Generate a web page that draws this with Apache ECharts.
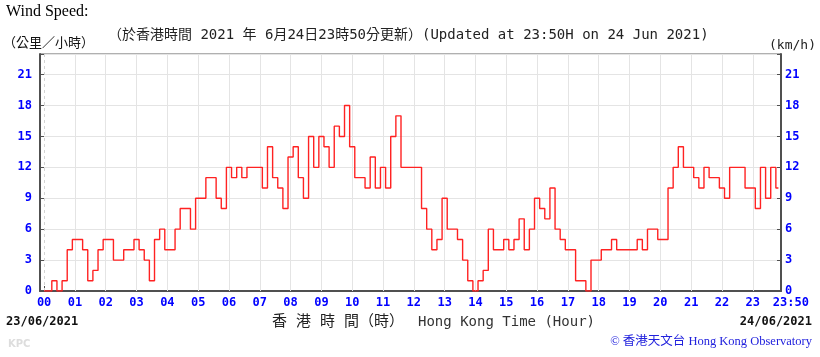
<!DOCTYPE html>
<html><head><meta charset="utf-8">
<script src="https://cdn.jsdelivr.net/npm/echarts@6/dist/echarts.min.js"></script>
<style>html,body{margin:0;padding:0;background:#fff}#c{width:820px;height:357px}</style>
</head><body><div id="c"></div>
<script>
// Tick labels (x axis, minutes after 00:00 HKT on 23/06/2021)
const tickLabels = ['00','01','02','03','04','05','06','07','08','09','10','11','12','13','14','15','16','17','18','19','20','21','22','23','23:50'];
const tickMinutes = [0,60,120,180,240,300,360,420,480,540,600,660,720,780,840,900,960,1020,1080,1140,1200,1260,1320,1380,1430];
const yTickLabels = [0,3,6,9,12,15,18,21];
const stepMinutes = 10;
// Wind speed (km/h), one value every 10 minutes from 00:00 to 23:50
const speedKmh = [
  0,0,1,0,1,4,5,5,4,1,2,4,5,5,3,3,4,4,5,
  4,3,1,5,6,4,4,6,8,8,6,9,9,11,11,9,8,12,
  11,12,11,12,12,12,10,14,11,10,8,13,14,11,9,15,12,15,14,
  12,16,15,18,14,11,11,10,13,10,12,10,15,17,12,12,12,12,
  8,6,4,5,9,6,6,5,3,1,0,1,2,6,4,4,5,4,
  5,7,4,6,9,8,7,10,6,5,4,4,1,1,0,3,3,4,4,
  5,4,4,4,4,5,4,6,6,5,5,10,12,14,12,12,11,
  10,12,11,11,10,9,12,12,12,10,10,8,12,9,12,10
];

const seriesData = speedKmh.map((v, i) => [i * stepMinutes, v]);
const hourLines = tickMinutes.slice(0, 24).map((m, i) => i === 0
  ? { xAxis: m, lineStyle: { type: [3, 3], color: '#d4d4d4', width: 1 } }
  : { xAxis: m });

const mono = '"DejaVu Sans Mono", "Noto Sans CJK TC", monospace';
const blue = '#0000ff';

const chart = echarts.init(document.getElementById('c'), null, { renderer: 'canvas' });
chart.setOption({
  animation: false,
  backgroundColor: '#ffffff',
  grid: { left: 40, right: 39, top: 54, bottom: 66, show: true, borderColor: '#606060', borderWidth: 1, containLabel: false },
  xAxis: {
    type: 'value', min: -8, max: 1435,
    axisLine: { show: true, onZero: false, lineStyle: { color: '#505050', width: 2 } },
    axisTick: { show: true, inside: true, length: 5, customValues: tickMinutes.slice(0, 24), lineStyle: { color: '#505050', width: 1 } },
    splitLine: { show: false },
    axisLabel: {
      customValues: tickMinutes,
      showMinLabel: true, showMaxLabel: true,
      margin: 6,
      fontFamily: mono, fontWeight: 'bold', fontSize: 12, color: blue,
      formatter: function (v) {
        const t = tickLabels[tickMinutes.indexOf(v)];
        return v === 1430 ? '{e|' + t + '}' : t;
      },
      rich: { e: { fontFamily: mono, fontWeight: 'bold', fontSize: 12, color: blue, padding: [0, 0, 0, 25] } }
    }
  },
  yAxis: [
    {
      type: 'value', position: 'left', min: 0, max: 23, interval: 3,
      axisLine: { show: true, onZero: false, lineStyle: { color: '#505050', width: 2 } },
      axisTick: { show: true, inside: true, length: 4, lineStyle: { color: '#505050' } },
      splitLine: { show: true, lineStyle: { color: '#e4e4e4', width: 1 } },
      axisLabel: { margin: 8, fontFamily: mono, fontWeight: 'bold', fontSize: 12, color: blue,
        formatter: v => (yTickLabels.indexOf(v) >= 0 ? String(v) : '') }
    },
    {
      type: 'value', position: 'right', min: 0, max: 23, interval: 3,
      axisLine: { show: true, onZero: false, lineStyle: { color: '#505050', width: 2 } },
      axisTick: { show: true, inside: true, length: 4, lineStyle: { color: '#505050' } },
      splitLine: { show: false },
      axisLabel: { margin: 4, fontFamily: mono, fontWeight: 'bold', fontSize: 12, color: blue,
        formatter: v => (yTickLabels.indexOf(v) >= 0 ? String(v) : '') }
    }
  ],
  series: [
    {
      type: 'line', data: seriesData, yAxisIndex: 0, z: 3, step: 'middle',
      showSymbol: false, symbol: 'none', silent: true,
      lineStyle: { color: '#ff2222', width: 1.4 },
      markLine: {
        z: 1, silent: true, symbol: ['none', 'none'], label: { show: false },
        lineStyle: { color: '#e4e4e4', width: 1, type: 'solid' },
        data: hourLines
      }
    }
  ],
  graphic: [
    { type: 'text', x: 6, y: 4, style: { text: 'Wind Speed:', font: '16px "Liberation Serif", serif', fill: '#000' } },
    { type: 'text', x: 3, y: 42, style: { text: '（公里／小時）', font: '13px "Noto Sans CJK TC", sans-serif', fill: '#111', verticalAlign: 'middle' } },
    { type: 'text', x: 108, y: 35, style: { text: '（於香港時間 2021 年 6月24日23時50分更新）(Updated at 23:50H on 24 Jun 2021)', font: '14px ' + mono, fill: '#222', verticalAlign: 'middle' } },
    { type: 'text', x: 816, y: 46, style: { text: '(km/h)', font: '13px ' + mono, fill: '#222', align: 'right', verticalAlign: 'middle' } },
    { type: 'text', x: 6, y: 322, style: { text: '23/06/2021', font: 'bold 12px ' + mono, fill: '#111', verticalAlign: 'middle' } },
    { type: 'text', x: 812, y: 322, style: { text: '24/06/2021', font: 'bold 12px ' + mono, fill: '#111', align: 'right', verticalAlign: 'middle' } },
    { type: 'text', x: 272, y: 322, style: { text: '香 港 時 間（時）', font: '15px ' + mono, fill: '#222', verticalAlign: 'middle' } },
    { type: 'text', x: 418, y: 322, style: { text: 'Hong Kong Time (Hour)', font: '14px ' + mono, fill: '#333', verticalAlign: 'middle' } },
    { type: 'text', x: 8, y: 344, style: { text: 'KPC', font: 'bold 10px "DejaVu Sans", sans-serif', fill: '#dddddd', verticalAlign: 'middle' } },
    { type: 'text', x: 812, y: 342, style: { text: '© 香港天文台 Hong Kong Observatory', font: '12.5px "Liberation Serif", "Noto Sans CJK TC", serif', fill: '#2222dd', align: 'right', verticalAlign: 'middle' } }
  ]
});
</script>
</body></html>
